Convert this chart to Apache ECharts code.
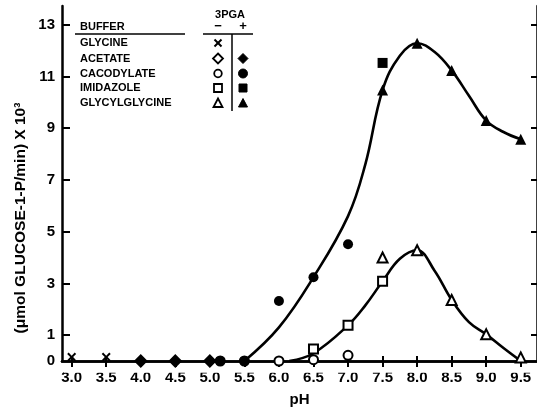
<!DOCTYPE html>
<html>
<head>
<meta charset="utf-8">
<script src="https://cdn.jsdelivr.net/npm/echarts@6.0.0/dist/echarts.min.js"></script>
<style>
  html, body { margin: 0; padding: 0; background: #fff; }
  #chart { width: 537px; height: 412px; }
</style>
</head>
<body>
<div id="chart"></div>
<script>
// pH axis tick labels and activity axis tick labels
const phTicks = [3.0, 3.5, 4.0, 4.5, 5.0, 5.5, 6.0, 6.5, 7.0, 7.5, 8.0, 8.5, 9.0, 9.5];
const rateTickLabels = [0, 1, 3, 5, 7, 9, 11, 13];
const rateTickMarks = [1, 3, 5, 7, 9, 11, 13];

// Measured activity, (µmol glucose-1-P/min) x 10^3, without (minus) and with (plus) 3PGA
const glycineMinusPH = [3.0, 3.5];
const glycineMinusVal = [0.15, 0.15];

const acetateMinusPH = [4.0, 4.5, 5.0];
const acetateMinusVal = [0, 0, 0];
const acetatePlusPH = [4.0, 4.5, 5.0];
const acetatePlusVal = [0, 0, 0];

const cacodylateMinusPH = [5.15, 5.5, 6.0, 6.5, 7.0];
const cacodylateMinusVal = [0, 0, 0, 0.05, 0.22];
const cacodylatePlusPH = [5.15, 5.5, 6.0, 6.5, 7.0];
const cacodylatePlusVal = [0, 0, 2.32, 3.24, 4.51];

const imidazoleMinusPH = [6.5, 7.0, 7.5];
const imidazoleMinusVal = [0.46, 1.38, 3.08];
const imidazolePlusPH = [7.5];
const imidazolePlusVal = [11.52];

const glycylMinusPH = [7.5, 8.0, 8.5, 9.0, 9.5];
const glycylMinusVal = [4.0, 4.28, 2.36, 1.03, 0.14];
const glycylPlusPH = [7.5, 8.0, 8.5, 9.0, 9.5];
const glycylPlusVal = [10.47, 12.28, 11.23, 9.29, 8.57];

// Hand-fitted curves
const curvePlusPH = [5.5, 6.0, 6.5, 7.0, 7.25, 7.5, 7.75, 8.0, 8.25, 8.5, 8.75, 9.0, 9.25, 9.5];
const curvePlusVal = [0, 1.3, 3.24, 5.6, 7.6, 10.47, 11.8, 12.28, 11.95, 11.23, 10.25, 9.29, 8.85, 8.57];
const curveMinusPH = [6.15, 6.5, 7.0, 7.25, 7.5, 7.75, 8.0, 8.25, 8.5, 8.75, 9.0, 9.25, 9.5];
const curveMinusVal = [0, 0.3, 1.38, 2.15, 3.08, 3.95, 4.28, 3.5, 2.36, 1.5, 1.03, 0.5, 0];

const FONT = "'Liberation Sans Narrow', 'Liberation Sans', Arial, sans-serif";
const LFONT = "'Liberation Sans', Arial, sans-serif";

function pairs(xs, ys) { return xs.map((x, i) => [x, ys[i]]); }

const crossPath = 'path://M0,1.6L1.6,0L5,3.4L8.4,0L10,1.6L6.6,5L10,8.4L8.4,10L5,6.6L1.6,10L0,8.4L3.4,5Z';

function marks(name, xs, ys, symbol, filled, size) {
  return {
    type: 'scatter', name: name, data: pairs(xs, ys), symbol: symbol, symbolSize: size,
    clip: false, z: 3,
    itemStyle: filled
      ? { color: '#000', borderColor: '#000', borderWidth: 0, opacity: 1 }
      : { color: '#fff', borderColor: '#000', borderWidth: 2, opacity: 1 }
  };
}

function curve(xs, ys) {
  return {
    type: 'line', data: pairs(xs, ys), smooth: 0.4, showSymbol: false, clip: false, z: 2,
    lineStyle: { color: '#000', width: 2.6 }
  };
}

// Key drawn as a small table
const keyRows = ['GLYCINE', 'ACETATE', 'CACODYLATE', 'IMIDAZOLE', 'GLYCYLGLYCINE'];
const keyRowY = [43, 58.5, 73.5, 88, 103];
const keyTextX = 80, keyMinusX = 218, keyPlusX = 243;

function keyText(txt, x, y, align, size) {
  return { type: 'text', x: x, y: y, style: { text: txt, fill: '#000', font: 'bold ' + (size || 11) + 'px ' + LFONT, textAlign: align || 'left', textVerticalAlign: 'middle' } };
}
function line(x1, y1, x2, y2, w) {
  return { type: 'line', shape: { x1: x1, y1: y1, x2: x2, y2: y2 }, style: { stroke: '#000', lineWidth: w || 1.5 } };
}
function keySymbol(kind, x, y, filled) {
  const st = filled ? { fill: '#000', stroke: '#000', lineWidth: 1 } : { fill: '#fff', stroke: '#000', lineWidth: 1.8 };
  const r = 4.5;
  if (kind === 'cross') {
    return { type: 'group', children: [line(x - 3.5, y - 3.5, x + 3.5, y + 3.5, 2), line(x + 3.5, y - 3.5, x - 3.5, y + 3.5, 2)] };
  }
  if (kind === 'circle') return { type: 'circle', shape: { cx: x, cy: y, r: filled ? 4.5 : 3.8 }, style: st };
  if (kind === 'rect') return { type: 'rect', shape: { x: x - 4, y: y - 4, width: 8, height: 8 }, style: st };
  if (kind === 'diamond') return { type: 'polygon', shape: { points: [[x, y - 5], [x + 5, y], [x, y + 5], [x - 5, y]] }, style: st };
  return { type: 'polygon', shape: { points: [[x, y - r], [x + r, y + r - 0.5], [x - r, y + r - 0.5]] }, style: st };
}

const keyElems = [
  keyText('BUFFER', keyTextX, 27),
  line(75, 34, 185, 34),
  keyText('3PGA', 230, 15, 'center'),
  keyText('\u2212', keyMinusX, 26, 'center', 13),
  keyText('+', keyPlusX, 26, 'center', 13),
  line(203, 34, 253, 34),
  line(232, 34, 232, 111)
];
const keyKinds = ['cross', 'diamond', 'circle', 'rect', 'triangle'];
keyRows.forEach((t, i) => {
  keyElems.push(keyText(t, keyTextX, keyRowY[i]));
  keyElems.push(keySymbol(keyKinds[i], keyMinusX, keyRowY[i], false));
  if (i > 0) keyElems.push(keySymbol(keyKinds[i], keyPlusX, keyRowY[i], true));
});

const axisLine = { show: true, lineStyle: { color: '#000', width: 2.5 } };
const tickStyle = { color: '#000', width: 2 };
const labelStyle = { color: '#000', fontSize: 15, fontWeight: 'bold', fontFamily: FONT };

const chart = echarts.init(document.getElementById('chart'), null, { renderer: 'canvas' });
chart.setOption({
  animation: false,
  backgroundColor: '#fff',
  grid: { left: 62, right: -1, top: 6, bottom: 45, containLabel: false },
  xAxis: [
    {
      type: 'value', position: 'bottom', min: 2.86, max: 9.735,
      axisLine: axisLine,
      axisTick: { show: true, inside: true, length: 5, customValues: phTicks, lineStyle: tickStyle },
      axisLabel: Object.assign({ customValues: phTicks, margin: 9, formatter: v => v.toFixed(1) }, labelStyle),
      splitLine: { show: false },
      name: 'pH', nameLocation: 'middle', nameGap: 31,
      nameTextStyle: { color: '#000', fontSize: 15, fontWeight: 'bold', fontFamily: LFONT }
    },
    {
      type: 'value', position: 'top', min: 2.86, max: 9.735,
      axisLine: axisLine,
      axisTick: { show: true, inside: true, length: 6, customValues: phTicks, lineStyle: tickStyle },
      axisLabel: { show: false },
      splitLine: { show: false }
    }
  ],
  yAxis: [
    {
      type: 'value', position: 'left', min: 0, max: 13.72,
      axisLine: axisLine,
      axisTick: { show: true, inside: true, length: 8, customValues: rateTickMarks, lineStyle: tickStyle },
      axisLabel: Object.assign({ customValues: rateTickLabels, margin: 7 }, labelStyle),
      splitLine: { show: false }
    },
    {
      type: 'value', position: 'right', min: 0, max: 13.72,
      axisLine: axisLine,
      axisTick: { show: true, inside: true, length: 6, customValues: rateTickMarks, lineStyle: tickStyle },
      axisLabel: { show: false },
      splitLine: { show: false }
    }
  ],
  graphic: [
    // hides the lower halves of marks sitting on the baseline
    { type: 'rect', z: 100, shape: { x: 64, y: 368.6, width: 474, height: 4.2 }, style: { fill: '#fff' } },
    {
      type: 'text', x: 21, y: 218, rotation: Math.PI / 2, z: 100,
      style: { text: '(\u03bcmol GLUCOSE-1-P/min) X 10\u00b3', fill: '#000', font: 'bold 15.5px ' + LFONT, textAlign: 'center', textVerticalAlign: 'middle' }
    },
    { type: 'group', z: 100, children: keyElems }
  ],
  series: [
    curve(curvePlusPH, curvePlusVal),
    curve(curveMinusPH, curveMinusVal),
    marks('glycine -', glycineMinusPH, glycineMinusVal, crossPath, true, 9),
    marks('acetate -', acetateMinusPH, acetateMinusVal, 'diamond', false, 11),
    marks('acetate +', acetatePlusPH, acetatePlusVal, 'diamond', true, 11),
    marks('cacodylate -', cacodylateMinusPH, cacodylateMinusVal, 'circle', false, 9),
    marks('cacodylate +', cacodylatePlusPH, cacodylatePlusVal, 'circle', true, 10),
    marks('imidazole -', imidazoleMinusPH, imidazoleMinusVal, 'rect', false, 9),
    marks('imidazole +', imidazolePlusPH, imidazolePlusVal, 'rect', true, 10),
    marks('glycylglycine -', glycylMinusPH, glycylMinusVal, 'triangle', false, 10),
    marks('glycylglycine +', glycylPlusPH, glycylPlusVal, 'triangle', true, 11)
  ]
});
</script>
</body>
</html>
